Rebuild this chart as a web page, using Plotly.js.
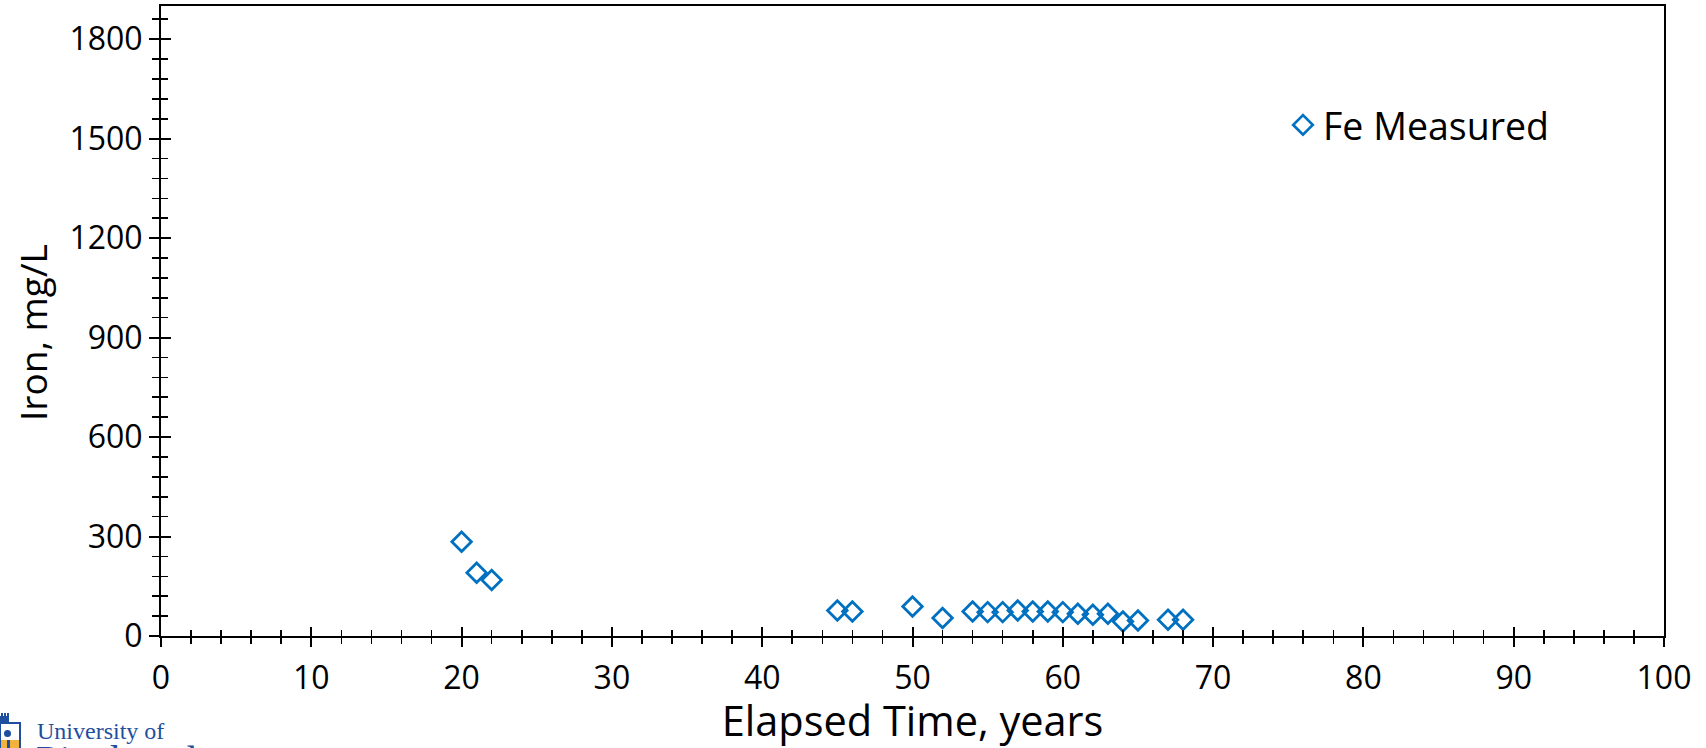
<!DOCTYPE html>
<html>
<head>
<meta charset="utf-8">
<script src="https://cdn.plot.ly/plotly-3.0.1.min.js"></script>
<style>
  html, body { margin: 0; padding: 0; background: #ffffff; }
  #chart { width: 1706px; height: 748px; }
</style>
</head>
<body>
<div id="chart"></div>
<script>
// Measured dissolved iron over elapsed time
const elapsedYears = [20, 21, 22, 45, 46, 50, 52, 54, 55, 56, 57, 58, 59, 60, 61, 62, 63, 64, 65, 67, 68];
const ironMgL      = [284, 191, 169, 77, 74, 89, 54, 74, 72, 72, 77, 74, 74, 72, 67, 64, 67, 44, 47, 49, 49];

const seriesName = 'Fe Measured';
const xTitle = 'Elapsed Time, years';
const yTitle = 'Iron, mg/L';

const W = 1706, H = 748;
const M = { l: 161, r: 42, t: 6, b: 112 };
const plotW = W - M.l - M.r, plotH = H - M.t - M.b;
// pixel -> paper helpers for decorations outside the plot area
const px = x => (x - M.l) / plotW;
const py = y => (H - M.b - y) / plotH;

const FONT = '"Open Sans", "Liberation Sans", sans-serif';
const SERIF = '"Liberation Serif", "DejaVu Serif", serif';
const BLUE = '#0070C0';
const PITT = '#1d4f9e';

const measured = {
  type: 'scatter',
  mode: 'markers',
  name: seriesName,
  x: elapsedYears,
  y: ironMgL,
  marker: {
    symbol: 'diamond-open',
    size: 15,
    color: BLUE,
    line: { color: BLUE, width: 2.8 }
  },
  showlegend: true
};

// carrier for the overlay axes that draw the inner half of each tick
const tickCarrier = {
  type: 'scatter',
  mode: 'markers',
  x: elapsedYears,
  y: ironMgL,
  xaxis: 'x2',
  yaxis: 'y2',
  marker: { opacity: 0, size: 1 },
  hoverinfo: 'skip',
  showlegend: false
};

const common = {
  showgrid: false,
  zeroline: false,
  linecolor: '#000',
  linewidth: 2,
  tickcolor: '#000',
  tickwidth: 2
};

const xMinorOut = { dtick: 2, ticks: 'outside', ticklen: 6, tickwidth: 1.6, tickcolor: '#000', showgrid: false };
const yMinorOut = { dtick: 60, ticks: 'outside', ticklen: 7, tickwidth: 1.6, tickcolor: '#000', showgrid: false };

const layout = {
  width: W,
  height: H,
  margin: M,
  paper_bgcolor: '#ffffff',
  plot_bgcolor: '#ffffff',
  font: { family: FONT, color: '#000' },
  showlegend: true,
  legend: {
    x: px(1283), xanchor: 'left',
    y: py(94), yanchor: 'top',
    bgcolor: 'rgba(0,0,0,0)',
    font: { family: FONT, size: 37.5, color: '#000' }
  },
  xaxis: Object.assign({}, common, {
    range: [0, 100],
    dtick: 10, tick0: 0,
    ticks: 'outside', ticklen: 9,
    minor: xMinorOut,
    showline: true, mirror: true,
    ticklabelstandoff: 4,
    tickfont: { family: FONT, size: 32, color: '#000' },
    title: { text: xTitle, font: { family: FONT, size: 41.5, color: '#000' }, standoff: 14 }
  }),
  yaxis: Object.assign({}, common, {
    range: [0, 1900],
    dtick: 300, tick0: 0,
    ticks: 'outside', ticklen: 10,
    minor: yMinorOut,
    showline: true, mirror: true,
    tickfont: { family: FONT, size: 32, color: '#000' }
  }),
  xaxis2: Object.assign({}, common, {
    overlaying: 'x', anchor: 'y2', side: 'bottom',
    range: [0, 100], dtick: 10, tick0: 0,
    ticks: 'inside', ticklen: 9,
    minor: Object.assign({}, xMinorOut, { ticks: 'inside' }),
    showticklabels: false, showline: false
  }),
  yaxis2: Object.assign({}, common, {
    overlaying: 'y', anchor: 'x2', side: 'left',
    range: [0, 1900], dtick: 300, tick0: 0,
    ticks: 'inside', ticklen: 10,
    minor: Object.assign({}, yMinorOut, { ticks: 'inside' }),
    showticklabels: false, showline: false
  }),
  shapes: [
    // university shield emblem
    { type: 'rect', xref: 'paper', yref: 'paper', x0: px(0), x1: px(21), y0: py(748), y1: py(722),
      fillcolor: PITT, line: { width: 0 }, layer: 'above' },
    { type: 'rect', xref: 'paper', yref: 'paper', x0: px(1), x1: px(19), y0: py(748), y1: py(724),
      fillcolor: '#ffffff', line: { width: 0 }, layer: 'above' },
    { type: 'rect', xref: 'paper', yref: 'paper', x0: px(1), x1: px(19), y0: py(748), y1: py(740),
      fillcolor: '#f2b33d', line: { width: 0 }, layer: 'above' },
    { type: 'rect', xref: 'paper', yref: 'paper', x0: px(7), x1: px(10), y0: py(748), y1: py(740),
      fillcolor: PITT, line: { width: 0 }, layer: 'above' },
    { type: 'circle', xref: 'paper', yref: 'paper', x0: px(4), x1: px(11), y0: py(737), y1: py(730),
      fillcolor: PITT, line: { width: 0 }, layer: 'above' },
    { type: 'rect', xref: 'paper', yref: 'paper', x0: px(0), x1: px(9), y0: py(722), y1: py(716),
      fillcolor: PITT, line: { width: 0 }, layer: 'above' },
    { type: 'rect', xref: 'paper', yref: 'paper', x0: px(1), x1: px(3), y0: py(716), y1: py(713),
      fillcolor: PITT, line: { width: 0 }, layer: 'above' },
    { type: 'rect', xref: 'paper', yref: 'paper', x0: px(4), x1: px(6), y0: py(716), y1: py(713),
      fillcolor: PITT, line: { width: 0 }, layer: 'above' },
    { type: 'rect', xref: 'paper', yref: 'paper', x0: px(7), x1: px(9), y0: py(716), y1: py(713),
      fillcolor: PITT, line: { width: 0 }, layer: 'above' }
  ],
  annotations: [
    { text: yTitle, xref: 'paper', yref: 'paper', x: px(33), y: py(333),
      xanchor: 'center', yanchor: 'middle', textangle: -90, showarrow: false,
      font: { family: FONT, size: 37, color: '#000' } },
    { text: 'University of', xref: 'paper', yref: 'paper', x: px(35), y: py(746),
      xanchor: 'left', yanchor: 'bottom', showarrow: false,
      font: { family: SERIF, size: 24, color: PITT } },
    { text: 'Pittsburgh', xref: 'paper', yref: 'paper', x: px(34), y: py(736),
      xanchor: 'left', yanchor: 'top', showarrow: false,
      font: { family: SERIF, size: 42, color: PITT } },
    { text: '10', xref: 'paper', yref: 'paper', x: px(1655), y: py(736),
      xanchor: 'left', yanchor: 'top', showarrow: false,
      font: { family: FONT, size: 30, color: '#1f2d5a' } }
  ]
};

Plotly.newPlot('chart', [measured, tickCarrier], layout, { displayModeBar: false, staticPlot: true });
</script>
</body>
</html>
